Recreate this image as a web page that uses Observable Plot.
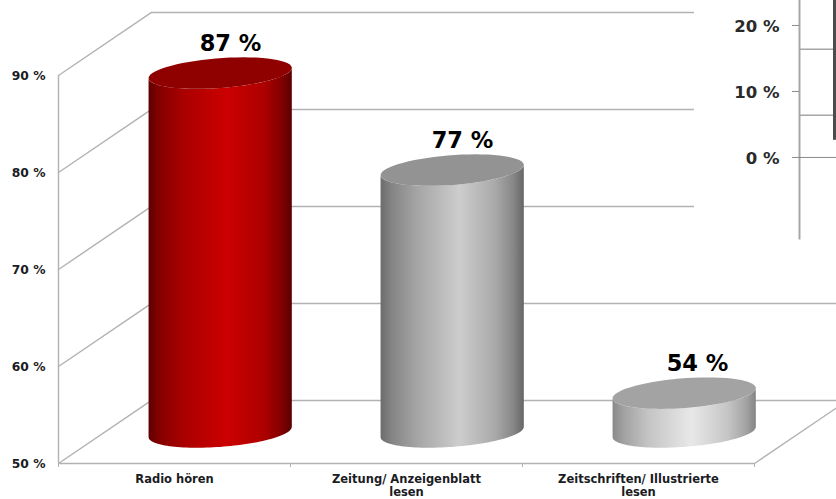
<!DOCTYPE html>
<html>
<head>
<meta charset="utf-8">
<style>html,body{margin:0;padding:0;background:#fff;overflow:hidden}svg{display:block}</style>
<script src="https://cdn.jsdelivr.net/npm/d3@7"></script>
<script src="https://cdn.jsdelivr.net/npm/@observablehq/plot@0.6"></script>
</head>
<body>
<script>
const categories = ["Radio hören", "Zeitung/ Anzeigenblatt\nlesen", "Zeitschriften/ Illustrierte\nlesen"];
const values = [87, 77, 54];
const yTicks = [50, 60, 70, 80, 90];
const insetTicks = [0, 10, 20];
const insetGrid = [6.4, 16.4];

// Oblique "3D" frame, all in scale units: one category = 1 on x, percent on y.
const DEPTH_X = 93 / 232, DEPTH_Y = 6.5;
const BASE = 50;
const project = (u, v, w) => ({x: u + w * DEPTH_X, y: v + w * DEPTH_Y});
const X_MAX = 778 / 232, Y_MAX = BASE + 463 / 9.7;

// Cylinder outlines
const A = 0.292, B = 0.25, CX = 0.4965;
const phi = Math.atan2(B * DEPTH_X, A);
const STEPS = 64;
const rim = (u, v, t) => project(u + A * Math.cos(t), v, 0.5 + B * Math.sin(t));
const range = (a, b) => d3.range(STEPS + 1).map(i => a + (b - a) * i / STEPS);
const sideOutline = (i, v) => [
  ...range(phi + Math.PI, phi + 2 * Math.PI).map(t => rim(i + CX, BASE, t)),
  ...range(phi + 2 * Math.PI, phi + Math.PI).map(t => rim(i + CX, v, t))
];
const topOutline = (i, v) => range(0, 2 * Math.PI).map(t => rim(i + CX, v, t));

const sideStops = [
  [[0, "#5e0000"], [0.08, "#860000"], [0.25, "#ab0000"], [0.55, "#cc0000"], [0.8, "#ae0000"], [0.93, "#820000"], [1, "#5a0000"]],
  [[0, "#6c6c6c"], [0.08, "#858585"], [0.25, "#a4a4a4"], [0.55, "#cdcdcd"], [0.8, "#a9a9a9"], [0.93, "#868686"], [1, "#666666"]],
  [[0, "#8a8a8a"], [0.08, "#a2a2a2"], [0.25, "#c4c4c4"], [0.55, "#e8e8e8"], [0.8, "#c6c6c6"], [0.93, "#a4a4a4"], [1, "#848484"]]
];
const topColors = ["#8f0000", "#939393", "#a3a3a3"];
const labelShift = i => (i === 2 ? 12.5 : 9.5);

const defs = () => {
  const d = d3.create("svg:defs");
  sideStops.forEach((stops, i) => {
    const g = d.append("linearGradient").attr("id", "side" + i);
    stops.forEach(([o, c]) => g.append("stop").attr("offset", o).attr("stop-color", c));
  });
  return d.node();
};

const GRID = {stroke: "#b2b2b2", strokeWidth: 1.4};
const FONT = "DejaVu Sans";
const TEXT = "#1b1b24";

// Fragment of a second chart pasted over the top right corner
const insetY = v => 81.55 + v * 6.6 / 9.7;
const INSET_AXIS = 741 / 232, INSET_LEFT = 636 / 232, INSET_TICK = 734 / 232, INSET_LABEL = 721 / 232, INSET_BAR = 775 / 232;

const chart = Plot.plot({
  width: 836, height: 499,
  marginLeft: 58, marginRight: 0, marginTop: 0, marginBottom: 36,
  style: {background: "#fff", fontFamily: FONT},
  x: {domain: [0, X_MAX], label: null},
  y: {domain: [BASE, Y_MAX], label: null},
  marks: [
    defs,
    // back wall grid lines
    ...yTicks.map(v => Plot.line([project(0, v, 1), {x: X_MAX, y: project(0, v, 1).y}], {x: "x", y: "y", ...GRID})),
    // side wall diagonals
    ...yTicks.map(v => Plot.line([project(0, v, 0), project(0, v, 1)], {x: "x", y: "y", ...GRID})),
    // floor right diagonal
    Plot.line([project(3, BASE, 0), project(3, BASE, (X_MAX - 3) / DEPTH_X)], {x: "x", y: "y", ...GRID}),
    // front axes
    Plot.ruleX([0], {y1: BASE, y2: 90, ...GRID}),
    Plot.ruleY([BASE], {x1: 0, x2: 3, ...GRID}),
    Plot.axisX([0, 1, 2, 3], {tickSize: 4, stroke: "#b2b2b2", tickFormat: () => "", label: null}),
    Plot.axisX([0.5, 1.5, 2.5], {
      tickSize: 0, tickPadding: 11, label: null,
      tickFormat: d => categories[Math.floor(d)],
      fontSize: 11.5, fontWeight: "bold", fontFamily: FONT, fill: TEXT, lineHeight: 1.1
    }),
    Plot.axisY(yTicks, {
      tickSize: 0, tickPadding: 13, label: null, dy: 1,
      tickFormat: d => d + " %",
      fontSize: 12.3, fontWeight: "bold", fontFamily: FONT, fill: TEXT
    }),
    // white patch under the pasted fragment
    Plot.rect([0], {x1: INSET_LEFT, x2: X_MAX, y1: insetY(-14), y2: Y_MAX, fill: "#fff"}),
    Plot.ruleX([INSET_AXIS], {y1: insetY(-12.5), y2: Y_MAX, stroke: "#a6a6a6", strokeWidth: 2}),
    Plot.ruleY(insetGrid, {x1: INSET_AXIS, x2: INSET_BAR, y: insetY, stroke: "#a6a6a6", strokeWidth: 1.5}),
    Plot.ruleY(insetTicks.slice(1), {x1: INSET_TICK, x2: INSET_AXIS, y: insetY, stroke: "#8a8a8a", strokeWidth: 1}),
    Plot.ruleY([0], {x1: INSET_TICK, x2: X_MAX, y: insetY, stroke: "#8a8a8a", strokeWidth: 1}),
    Plot.rect([0], {x1: INSET_BAR, x2: X_MAX, y1: insetY(2.6), y2: Y_MAX, fill: "#4c4c4c"}),
    Plot.text(insetTicks, {
      x: INSET_LABEL, y: insetY, text: d => d + " %", textAnchor: "end", dy: 1,
      fontSize: 16.5, fontWeight: "bold", fontFamily: FONT, fill: "#2a2a2a"
    }),
    // cylinders
    ...values.flatMap((v, i) => [
      Plot.line(sideOutline(i, v), {x: "x", y: "y", fill: "url(#side" + i + ")", stroke: "none"}),
      Plot.line(topOutline(i, v), {x: "x", y: "y", fill: topColors[i], stroke: "none"}),
      Plot.text([project(i + 0.5, v, 0.5)], {
        x: "x", y: "y", text: () => v + " %", dx: labelShift(i), dy: -29,
        fontSize: 22.5, fontWeight: "bold", fontFamily: FONT, fill: "#000"
      })
    ])
  ]
});
document.body.appendChild(chart);
</script>
</body>
</html>
